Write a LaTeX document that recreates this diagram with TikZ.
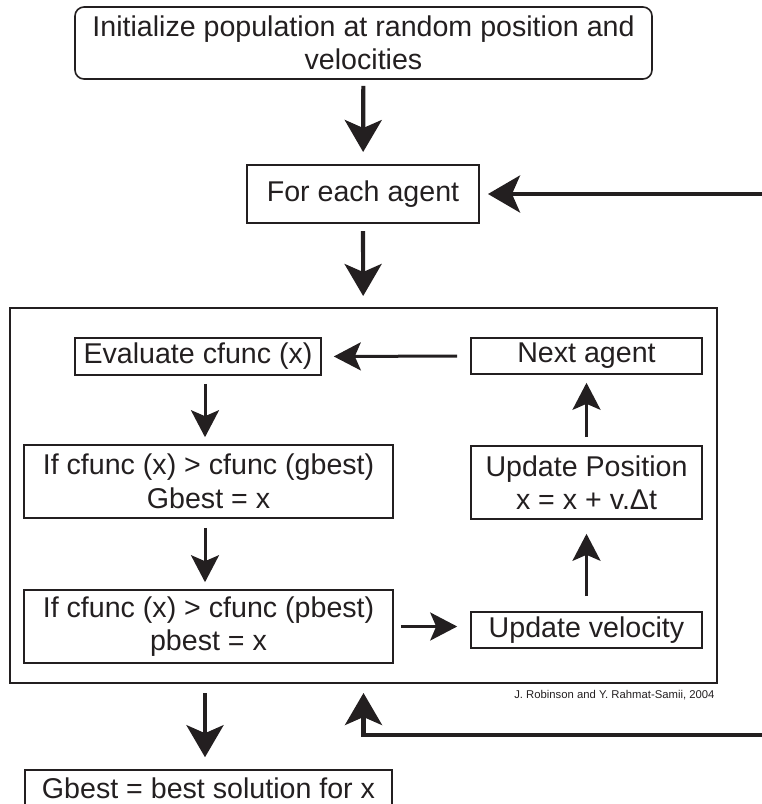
\documentclass[tikz,border=0pt]{standalone}
\usepackage{fontspec}
\setmainfont{Liberation Sans}
\usetikzlibrary{arrows.meta}
\definecolor{ink}{HTML}{231F20}

\tikzset{
  stepbox/.style={draw=ink, line width=1.6pt, inner sep=0pt, align=center, text=ink},
  bigarrow/.style={draw=ink, line width=4.2pt, -{Stealth[length=32pt,width=37pt,inset=8pt]}},
  smallarrow/.style={draw=ink, line width=3pt, -{Stealth[length=27pt,width=28pt,inset=6pt]}},
}

\begin{document}
\begin{tikzpicture}[x=1pt,y=-1pt,font=\fontsize{28.6}{33.5}\selectfont]
\useasboundingbox (0,0) rectangle (762,804);
\clip (0,0) rectangle (762,804);

% outer flow
\node[stepbox, rounded corners=9pt, minimum width=577pt, minimum height=72pt] (init) at (363.5,43) {Initialize population at random position and\\velocities};
\node[stepbox, line width=2pt, minimum width=232pt, minimum height=58pt] (each) at (363,194) {For each agent};
\node[draw=ink, line width=2pt, minimum width=707pt, minimum height=375pt] (loop) at (363.5,495.5) {};
\node[stepbox, minimum width=367pt, minimum height=37pt] (final) at (208.5,788.5) {Gbest = best solution for x};

% inner steps
\node[stepbox, minimum width=246pt, minimum height=37pt] (eval) at (198,356.5) {Evaluate cfunc (x)};
\node[stepbox, minimum width=369pt, minimum height=73pt] (gbest) at (208.5,481.5) {If cfunc (x) > cfunc (gbest)\\Gbest = x};
\node[stepbox, minimum width=369pt, minimum height=73pt] (pbest) at (208.5,626.5) {If cfunc (x) > cfunc (pbest)\\pbest = x};
\node[stepbox, minimum width=231pt, minimum height=36pt] (vel) at (586.5,630) {Update velocity};
\node[stepbox, minimum width=231pt, minimum height=73pt] (pos) at (586.5,482.5) {Update Position\\x = x + v.Δt};
\node[stepbox, minimum width=231pt, minimum height=36pt] (next) at (586.5,356) {Next agent};

\node[anchor=east, text=ink, font=\fontsize{11.3}{13}\selectfont] (credit) at (718,695) {J. Robinson and Y. Rahmat-Samii, 2004};

\coordinate (colL) at (205,0);
\coordinate (farR) at (800,194);
\coordinate (farB) at (800,735);

% arrows
\draw[bigarrow, shorten <=6pt, shorten >=12pt] (init) -- (each);
\draw[bigarrow, shorten <=7pt, shorten >=11pt] (each) -- (loop);
\draw[bigarrow, shorten >=8pt] (farR) -- (each.east);
\draw[bigarrow, shorten >=9pt] (farB) -- (farB -| loop.south) -- (loop.south);
\draw[bigarrow, shorten <=9pt, shorten >=12pt] (loop.south -| colL) -- (final.north -| colL);

\draw[smallarrow, shorten <=13pt, shorten >=12pt] (next.west) -- (eval.east);
\draw[smallarrow, shorten <=8pt, shorten >=7pt] (eval.south -| colL) -- (gbest.north -| colL);
\draw[smallarrow, shorten <=9pt, shorten >=7pt] (gbest.south -| colL) -- (pbest.north -| colL);
\draw[smallarrow, shorten <=7pt, shorten >=13pt] (pbest.east) -- (pbest.east -| vel.west);
\draw[smallarrow, shorten <=15pt, shorten >=14pt] (vel) -- (pos);
\draw[smallarrow, shorten <=8pt, shorten >=8pt] (pos) -- (next);
\end{tikzpicture}
\end{document}
